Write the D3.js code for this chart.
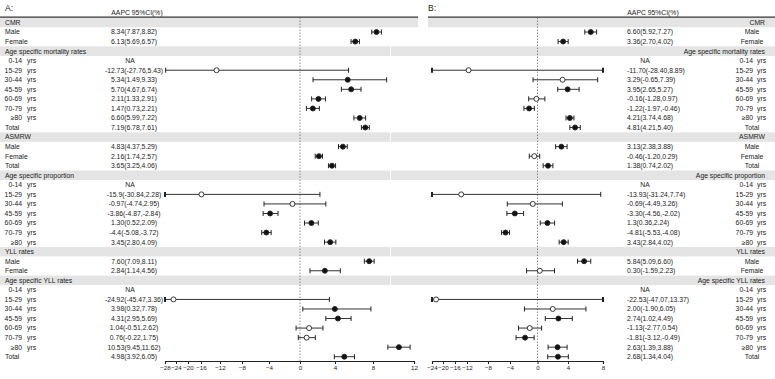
<!DOCTYPE html>
<html>
<head>
<meta charset="utf-8">
<script src="https://cdn.jsdelivr.net/npm/d3@7"></script>
<style>
  body { margin: 0; background: #fff; }
  text { font-family: 'Liberation Sans', Arial, sans-serif; fill: #222; }
</style>
</head>
<body>
<svg id="chart" width="775" height="379"></svg>
<script>
(function () {
  'use strict';

  // row labels (shared by both panels)
  var rowNames = ['CMR', 'Male', 'Female',
    'Age specific mortality rates', '0-14', '15-29', '30-44', '45-59', '60-69', '70-79', '≥80', 'Total',
    'ASMRW', 'Male', 'Female', 'Total',
    'Age specific proportion', '0-14', '15-29', '30-44', '45-59', '60-69', '70-79', '≥80',
    'YLL rates', 'Male', 'Female',
    'Age specific YLL rates', '0-14', '15-29', '30-44', '45-59', '60-69', '70-79', '≥80', 'Total'];
  var groupNames = ['CMR', 'Age specific mortality rates', 'ASMRW', 'Age specific proportion',
    'YLL rates', 'Age specific YLL rates'];
  var ageNames = ['0-14', '15-29', '30-44', '45-59', '60-69', '70-79', '≥80'];

  // panel A: AAPC, lower, upper (null = header row or NA)
  var estA = [null, 8.34, 6.13, null, null, -12.73, 5.34, 5.70, 2.11, 1.47, 6.60, 7.19,
    null, 4.83, 2.16, 3.65, null, null, -15.9, -0.97, -3.86, 1.30, -4.4, 3.45,
    null, 7.60, 2.84, null, null, -24.92, 3.98, 4.31, 1.04, 0.76, 10.53, 4.98];
  var loA = [null, 7.87, 5.69, null, null, -27.76, 1.49, 4.67, 1.33, 0.73, 5.99, 6.78,
    null, 4.37, 1.74, 3.25, null, null, -30.84, -4.74, -4.87, 0.52, -5.08, 2.80,
    null, 7.09, 1.14, null, null, -45.47, 0.32, 2.95, -0.51, -0.22, 9.45, 3.92];
  var hiA = [null, 8.82, 6.57, null, null, 5.43, 9.33, 6.74, 2.91, 2.21, 7.22, 7.61,
    null, 5.29, 2.57, 4.06, null, null, 2.28, 2.95, -2.84, 2.09, -3.72, 4.09,
    null, 8.11, 4.56, null, null, 3.36, 7.78, 5.69, 2.62, 1.75, 11.62, 6.05];
  var textA = ['', '8.34(7.87,8.82)', '6.13(5.69,6.57)', '', 'NA', '-12.73(-27.76,5.43)',
    '5.34(1.49,9.33)', '5.70(4.67,6.74)', '2.11(1.33,2.91)', '1.47(0.73,2.21)', '6.60(5.99,7.22)',
    '7.19(6.78,7.61)', '', '4.83(4.37,5.29)', '2.16(1.74,2.57)', '3.65(3.25,4.06)', '', 'NA',
    '-15.9(-30.84,2.28)', '-0.97(-4.74,2.95)', '-3.86(-4.87,-2.84)', '1.30(0.52,2.09)',
    '-4.4(-5.08,-3.72)', '3.45(2.80,4.09)', '', '7.60(7.09,8.11)', '2.84(1.14,4.56)', '', 'NA',
    '-24.92(-45.47,3.36)', '3.98(0.32,7.78)', '4.31(2.95,5.69)', '1.04(-0.51,2.62)',
    '0.76(-0.22,1.75)', '10.53(9.45,11.62)', '4.98(3.92,6.05)'];

  // panel B
  var estB = [null, 6.60, 3.36, null, null, -11.70, 3.29, 3.95, -0.16, -1.22, 4.21, 4.81,
    null, 3.13, -0.46, 1.38, null, null, -13.93, -0.69, -3.30, 1.3, -4.81, 3.43,
    null, 5.84, 0.30, null, null, -22.53, 2.00, 2.74, -1.13, -1.81, 2.63, 2.68];
  var loB = [null, 5.92, 2.70, null, null, -28.40, -0.65, 2.65, -1.28, -1.97, 3.74, 4.21,
    null, 2.38, -1.20, 0.74, null, null, -31.24, -4.49, -4.56, 0.36, -5.53, 2.84,
    null, 5.09, -1.59, null, null, -47.07, -1.90, 1.02, -2.77, -3.12, 1.39, 1.34];
  var hiB = [null, 7.27, 4.02, null, null, 8.89, 7.39, 5.27, 0.97, -0.46, 4.68, 5.40,
    null, 3.88, 0.29, 2.02, null, null, 7.74, 3.26, -2.02, 2.24, -4.08, 4.02,
    null, 6.60, 2.23, null, null, 13.37, 6.05, 4.49, 0.54, -0.49, 3.88, 4.04];
  var textB = ['', '6.60(5.92,7.27)', '3.36(2.70,4.02)', '', 'NA', '-11.70(-28.40,8.89)',
    '3.29(-0.65,7.39)', '3.95(2.65,5.27)', '-0.16(-1.28,0.97)', '-1.22(-1.97,-0.46)',
    '4.21(3.74,4.68)', '4.81(4.21,5.40)', '', '3.13(2.38,3.88)', '-0.46(-1.20,0.29)',
    '1.38(0.74,2.02)', '', 'NA', '-13.93(-31.24,7.74)', '-0.69(-4.49,3.26)',
    '-3.30(-4.56,-2.02)', '1.3(0.36,2.24)', '-4.81(-5.53,-4.08)', '3.43(2.84,4.02)', '',
    '5.84(5.09,6.60)', '0.30(-1.59,2.23)', '', 'NA', '-22.53(-47.07,13.37)', '2.00(-1.90,6.05)',
    '2.74(1.02,4.49)', '-1.13(-2.77,0.54)', '-1.81(-3.12,-0.49)', '2.63(1.39,3.88)',
    '2.68(1.34,4.04)'];

  // axis ticks
  var ticksA = [-28, -24, -20, -16, -12, -8, -4, 0, 4, 8, 12];
  var ticksB = [-24, -20, -16, -12, -8, -4, 0, 4, 8];

  var svg = d3.select('#chart');
  var top = 17.7;
  var axisY = 361;

  var y = d3.scaleBand()
    .domain(d3.range(rowNames.length))
    .range([top, top + rowNames.length * 9.55]);

  function mid (i) { return y(i) + y.bandwidth() / 2; }
  function isGroup (i) { return groupNames.indexOf(rowNames[i]) >= 0; }
  function isAge (i) { return ageNames.indexOf(rowNames[i]) >= 0 && !isGroup(i); }

  // the x axis of the source is stretched unevenly, so piecewise scales
  var xA = d3.scaleLinear()
    .domain(ticksA)
    .range([165, 176, 188, 201, 220, 242, 269, 300, 335, 373, 414])
    .clamp(true);
  var xB = d3.scaleLinear()
    .domain(ticksB)
    .range([432, 443, 455, 467, 488, 510, 537.5, 568, 603])
    .clamp(true);

  function drawPanel (cfg) {
    var g = svg.append('g');

    // grey bands behind the group rows
    g.selectAll('.band')
      .data(d3.range(rowNames.length).filter(isGroup))
      .enter()
      .append('rect')
      .attr('x', function (i) { return i === 0 ? cfg.band0[0] : cfg.band[0]; })
      .attr('width', function (i) {
        return i === 0 ? cfg.band0[1] - cfg.band0[0] : cfg.band[1] - cfg.band[0];
      })
      .attr('y', function (i) { return y(i); })
      .attr('height', y.bandwidth())
      .attr('fill', '#e4e4e4');

    // header
    g.append('text')
      .attr('x', cfg.letterX).attr('y', 11)
      .style('font-size', '8.5px')
      .text(cfg.letter);
    g.append('text')
      .attr('x', cfg.headX).attr('y', 15)
      .attr('text-anchor', 'middle')
      .style('font-size', '6.8px')
      .text('AAPC 95%CI(%)');
    g.append('line')
      .attr('x1', cfg.band0[0]).attr('x2', cfg.band0[1])
      .attr('y1', top - 0.6).attr('y2', top - 0.6)
      .attr('stroke', '#333').attr('stroke-width', 1.2);

    // zero reference
    g.append('line')
      .attr('x1', cfg.x(0)).attr('x2', cfg.x(0))
      .attr('y1', top).attr('y2', axisY)
      .attr('stroke', '#555').attr('stroke-width', 1)
      .attr('stroke-dasharray', '1,2');

    // row labels
    var rows = g.selectAll('.lab')
      .data(d3.range(rowNames.length))
      .enter();

    rows.filter(function (i) { return !isAge(i); })
      .append('text')
      .attr('x', function (i) {
        if (isGroup(i)) return cfg.groupX;
        return cfg.itemX;
      })
      .attr('text-anchor', function (i) {
        return isGroup(i) ? cfg.groupAnchor : cfg.itemAnchor;
      })
      .attr('y', function (i) { return mid(i) + 2.4; })
      .style('font-size', '6.8px')
      .text(function (i) { return rowNames[i]; });

    rows.filter(isAge)
      .append('text')
      .attr('x', cfg.ageX)
      .attr('text-anchor', 'end')
      .attr('y', function (i) { return mid(i) + 2.4; })
      .style('font-size', '6.8px')
      .text(function (i) { return rowNames[i]; });
    rows.filter(isAge)
      .append('text')
      .attr('x', cfg.yrsX)
      .attr('y', function (i) { return mid(i) + 2.4; })
      .style('font-size', '6.8px')
      .text('yrs');

    // AAPC text
    rows.filter(function (i) { return cfg.text[i] !== ''; })
      .append('text')
      .attr('x', function (i) { return cfg.text[i] === 'NA' ? cfg.naX : cfg.valX; })
      .attr('text-anchor', function (i) { return cfg.text[i] === 'NA' ? 'middle' : cfg.valAnchor; })
      .attr('y', function (i) { return mid(i) + 2.4; })
      .style('font-size', '6.8px')
      .text(function (i) { return cfg.text[i]; });

    // error bars
    var pts = d3.range(rowNames.length).filter(function (i) { return cfg.est[i] !== null; });
    var dmin = cfg.x.domain()[0];
    var dmax = cfg.x.domain()[cfg.x.domain().length - 1];

    var eb = g.selectAll('.eb')
      .data(pts)
      .enter()
      .append('g');

    eb.append('line')
      .attr('x1', function (i) { return cfg.x(cfg.lo[i]); })
      .attr('x2', function (i) { return cfg.x(cfg.hi[i]); })
      .attr('y1', mid).attr('y2', mid)
      .attr('stroke', '#333').attr('stroke-width', 1);

    eb.append('line')
      .attr('x1', function (i) { return cfg.x(cfg.lo[i]); })
      .attr('x2', function (i) { return cfg.x(cfg.lo[i]); })
      .attr('y1', function (i) { return mid(i) - 2.5; })
      .attr('y2', function (i) { return mid(i) + 2.5; })
      .attr('stroke', '#222')
      .attr('stroke-width', function (i) { return cfg.lo[i] < dmin ? 2 : 1; });

    eb.append('line')
      .attr('x1', function (i) { return cfg.x(cfg.hi[i]); })
      .attr('x2', function (i) { return cfg.x(cfg.hi[i]); })
      .attr('y1', function (i) { return mid(i) - 2.5; })
      .attr('y2', function (i) { return mid(i) + 2.5; })
      .attr('stroke', '#222')
      .attr('stroke-width', function (i) { return cfg.hi[i] > dmax ? 2 : 1; });

    eb.append('circle')
      .attr('cx', function (i) { return cfg.x(cfg.est[i]); })
      .attr('cy', mid)
      .attr('r', 2.5)
      .attr('fill', function (i) {
        return (cfg.lo[i] > 0 || cfg.hi[i] < 0) ? '#111' : '#fff';
      })
      .attr('stroke', '#222')
      .attr('stroke-width', 0.9);

    // x axis
    var ax = g.append('g')
      .attr('transform', 'translate(0,' + axisY + ')')
      .call(d3.axisBottom(cfg.x).tickValues(cfg.ticks).tickSize(3).tickPadding(2)
        .tickFormat(d3.format('d')));
    ax.select('.domain').attr('stroke', '#222').attr('stroke-width', 1.2);
    ax.selectAll('.tick line').attr('stroke', '#222');
    ax.selectAll('.tick text')
      .style('font-family', "'Liberation Sans', Arial, sans-serif")
      .style('font-size', '6.2px')
      .attr('fill', '#222');
  }

  drawPanel({
    letter: 'A:', letterX: 5, headX: 137,
    band0: [0, 418], band: [0, 390],
    groupX: 5, groupAnchor: 'start',
    itemX: 5, itemAnchor: 'start',
    ageX: 22, yrsX: 27,
    valX: 134, valAnchor: 'middle', naX: 130,
    x: xA, ticks: ticksA,
    est: estA, lo: loA, hi: hiA, text: textA
  });

  drawPanel({
    letter: 'B:', letterX: 428, headX: 653,
    band0: [428, 775], band: [391, 775],
    groupX: 765, groupAnchor: 'end',
    itemX: 752, itemAnchor: 'middle',
    ageX: 753, yrsX: 757,
    valX: 627, valAnchor: 'start', naX: 645,
    x: xB, ticks: ticksB,
    est: estB, lo: loB, hi: hiB, text: textB
  });
}());
</script>
</body>
</html>
